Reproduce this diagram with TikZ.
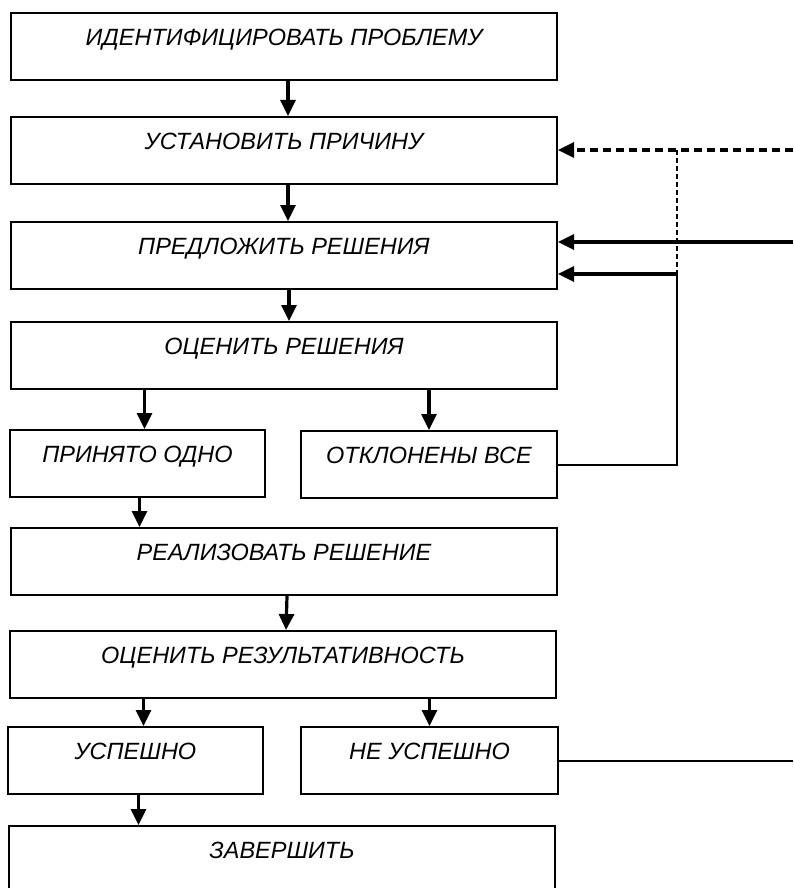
\documentclass[tikz,border=0pt]{standalone}
\usepackage{fontspec}
\setmainfont{Liberation Sans}
\usepackage{tikz}
\usetikzlibrary{arrows.meta}
\tikzset{>={Triangle[length=16pt,width=15pt]}}
\tikzset{
  stage/.style={draw, line width=2pt, anchor=north west, inner xsep=0pt,
    inner ysep=16pt, text height=16.5pt, text depth=18.5pt,
    font=\fontsize{23.5}{27}\selectfont\itshape},
  wide/.style={stage, minimum width=546pt},
  half/.style={stage, minimum width=255pt},
  flow/.style={->, line width=3.2pt},
  link/.style={line width=2pt},
}

\begin{document}
\begin{tikzpicture}[x=1pt, y=-1pt]
           \useasboundingbox (0,0) rectangle (793,888);

           %1
           \node[wide] (ident) at (10,12) {ИДЕНТИФИЦИРОВАТЬ ПРОБЛЕМУ};
           %2
           \node[wide] (cause) at (10,116) {УСТАНОВИТЬ ПРИЧИНУ};
           %3
           \node[wide] (offer) at (10,221) {ПРЕДЛОЖИТЬ РЕШЕНИЯ};
           %4
           \node[wide] (rate) at (10,321) {ОЦЕНИТЬ РЕШЕНИЯ};
           \node[half] (taken) at (9,429) {ПРИНЯТО ОДНО};
           \node[half, minimum width=256pt] (rejected) at (300,430) {ОТКЛОНЕНЫ ВСЕ};
           %5
           \node[wide] (realize) at (10,527) {РЕАЛИЗОВАТЬ РЕШЕНИЕ};
           \node[wide] (effect) at (9,630) {ОЦЕНИТЬ РЕЗУЛЬТАТИВНОСТЬ};
           \node[half] (success) at (7,726) {УСПЕШНО};
           \node[half, minimum width=257pt] (fail) at (300,726) {НЕ УСПЕШНО};
           %6
           \node[wide] (finish) at (8,825) {ЗАВЕРШИТЬ};

           % main arrows
           \draw[flow] ([xshift=4pt]ident.south) -- ([xshift=4pt]cause.north);
           \draw[flow] ([xshift=4pt]cause.south) -- ([xshift=4pt]offer.north);
           \draw[flow] ([xshift=5pt]offer.south) -- ([xshift=5pt]rate.north);
           \draw[flow] ([xshift=7pt]rate.south -| taken.north) -- ([xshift=7pt]taken.north);
           \draw[flow] (rate.south -| rejected.north) -- (rejected.north);
           \draw[flow] ([xshift=2pt]taken.south) -- ([xshift=2pt]realize.north -| taken.south);
           \draw[flow] ([xshift=3pt]realize.south) -- ([xshift=3pt]effect.north);
           \draw[flow] ([xshift=8pt]effect.south -| success.north) -- ([xshift=8pt]success.north);
           \draw[flow] (effect.south -| fail.north) -- (fail.north);
           \draw[flow] ([xshift=3pt]success.south) -- ([xshift=3pt]finish.north -| success.south);

           % loops back
           \coordinate (inA) at (793,150);
           \coordinate (inB) at (793,242);
           \coordinate (split) at (677,150);
           \coordinate (back) at (677,274);

           \draw[flow, dash pattern=on 8pt off 5pt] (inA) -- (inA -| cause.east);
           \draw[flow] (inB) -- (inB -| offer.east);
           \draw[link, dash pattern=on 5pt off 3pt] (split) -- (back);
           \draw[link] (rejected.east) -| (back);
           \draw[flow] (back) -- (back -| offer.east);
           \draw[link] (fail.east) -- (fail.east -| inA);
        \end{tikzpicture}
\end{document}
